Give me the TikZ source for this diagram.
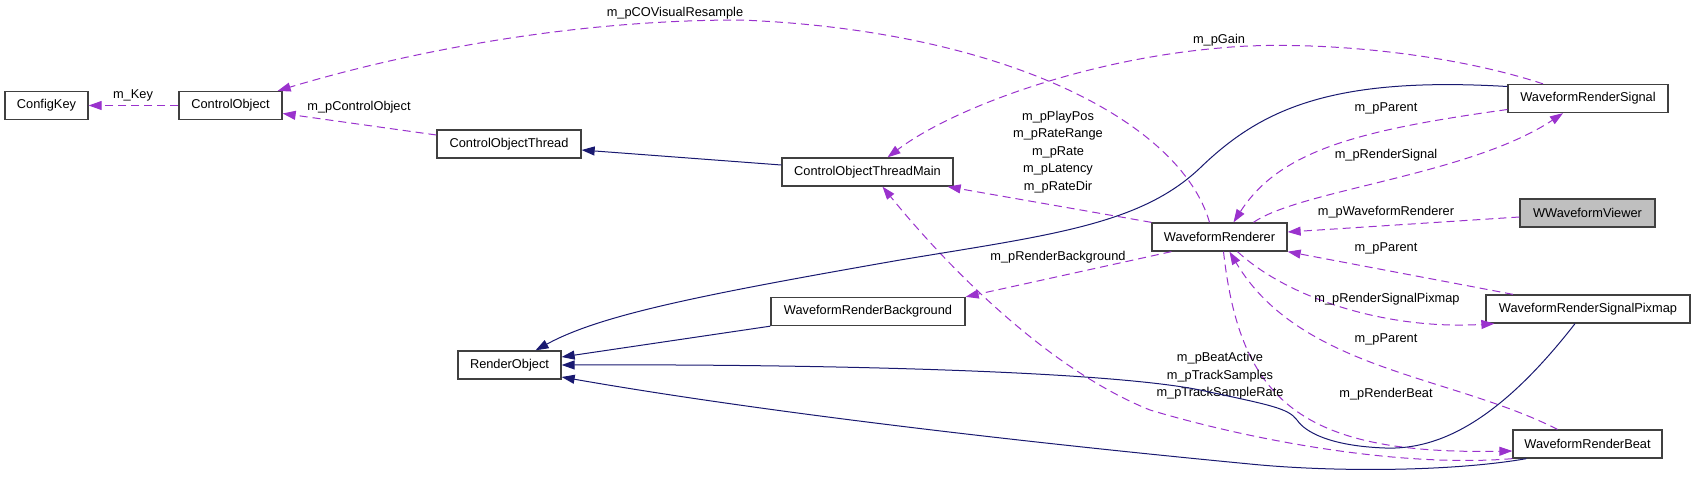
\documentclass[tikz,border=0pt]{standalone}
\usepackage{fontspec}
\setmainfont{Liberation Sans}
\usepackage{tikz}
\usetikzlibrary{arrows.meta}
\definecolor{memberpurple}{HTML}{9A32CD}
\definecolor{inheritnavy}{HTML}{191970}
\definecolor{boxgray}{HTML}{404040}
\definecolor{selfgray}{HTML}{BFBFBF}
\tikzstyle{classbox} = [rectangle, minimum height=28pt, inner xsep=4pt, text centered,
draw=boxgray, line width=1.3pt, fill=white, font=\fontsize{12.8}{15}\selectfont]
\tikzstyle{selfbox} = [classbox, fill=selfgray]
\tikzstyle{lbl} = [inner sep=0pt, align=center, font=\fontsize{12.8}{17.5}\selectfont]
\tikzstyle{member} = [line width=1pt, draw=memberpurple, dash pattern=on 8pt off 5pt,
-{Triangle[length=13pt, width=9pt, fill=memberpurple]}]
\tikzstyle{inherit} = [line width=1pt, draw=inheritnavy,
-{Triangle[length=13pt, width=9pt, fill=inheritnavy]}]

\begin{document}
\begin{tikzpicture}[x=1pt, y=-1pt]
\useasboundingbox (0,0) rectangle (1696,477);

\node(configKey)[classbox, minimum width=83pt] at (46.5,105.5) {ConfigKey};
\node(controlObject)[classbox, minimum width=103pt] at (230.5,105.5) {ControlObject};
\node(coThread)[classbox, minimum width=144pt] at (509,144) {ControlObjectThread};
\node(coThreadMain)[classbox, minimum width=171pt] at (867.5,172) {ControlObjectThreadMain};
\node(renderSignal)[classbox, minimum width=160pt] at (1588,98.5) {WaveformRenderSignal};
\node(viewer)[selfbox, minimum width=135pt] at (1587.5,213) {WWaveformViewer};
\node(renderer)[classbox, minimum width=135pt] at (1219.5,237) {WaveformRenderer};
\node(renderBackground)[classbox, minimum width=194pt] at (868,311.5) {WaveformRenderBackground};
\node(renderObject)[classbox, minimum width=103pt] at (509.5,365) {RenderObject};
\node(signalPixmap)[classbox, minimum width=204pt] at (1588,309) {WaveformRenderSignalPixmap};
\node(renderBeat)[classbox, minimum width=149pt] at (1587.5,444) {WaveformRenderBeat};

\draw[member](controlObject) -- (configKey) node[lbl] at (133,95) {m\_Key};
\draw[member]([yshift=9pt]coThread.west) -- ([yshift=-8pt]controlObject.east)
node[lbl] at (359,107) {m\_pControlObject};
\draw[inherit]([yshift=7pt]coThreadMain.west) -- ([yshift=-6pt]coThread.east);
\draw[member]([xshift=-10pt]renderer.north) .. controls (1180,120) and (1000,30) .. (740,20)
.. controls (550,20) and (380,60) .. ([xshift=-5pt]controlObject.north east)
node[lbl] at (675,13) {m\_pCOVisualResample};
\draw[member]([xshift=-45pt]renderSignal.north) .. controls (1440,50) and (1300,40) .. (1220,48)
.. controls (1080,60) and (950,110) .. ([xshift=20pt]coThreadMain.north)
node[lbl] at (1219,40) {m\_pGain};
\draw[member](renderer.north west) -- ([xshift=-6pt]coThreadMain.south east)
node[lbl] at (1058,152) {m\_pPlayPos\\m\_pRateRange\\m\_pRate\\m\_pLatency\\m\_pRateDir};
\draw[member]([yshift=-11pt]renderSignal.west) .. controls (1360,130) and (1280,150) ..
([xshift=14pt]renderer.north) node[lbl] at (1386,108) {m\_pParent};
\draw[member]([xshift=34pt]renderer.north) .. controls (1300,190) and (1470,175) ..
([xshift=-25pt]renderSignal.south) node[lbl] at (1386,155) {m\_pRenderSignal};
\draw[member]([yshift=-4pt]viewer.west) -- ([yshift=5pt]renderer.east)
node[lbl] at (1386,212) {m\_pWaveformRenderer};
\draw[member]([xshift=-75pt]signalPixmap.north) -- (renderer.south east)
node[lbl] at (1386,248) {m\_pParent};
\draw[member]([xshift=18pt]renderer.south) .. controls (1290,300) and (1390,330) ..
([xshift=9pt]signalPixmap.south west) node[lbl] at (1387,299) {m\_pRenderSignalPixmap};
\draw[member]([xshift=-30pt]renderBeat.north) .. controls (1450,375) and (1300,370) ..
([xshift=10pt]renderer.south) node[lbl] at (1386,339) {m\_pParent};
\draw[member]([xshift=4pt]renderer.south) .. controls (1240,400) and (1300,455) ..
([yshift=-7pt]renderBeat.west) node[lbl] at (1386,394) {m\_pRenderBeat};
\draw[member](renderBeat.south west) .. controls (1400,468) and (1250,440) .. (1150,410)
.. controls (1050,370) and (950,270) .. ([xshift=15pt]coThreadMain.south)
node[lbl] at (1220,376) {m\_pBeatActive\\m\_pTrackSamples\\m\_pTrackSampleRate};
\draw[member]([xshift=20pt]renderer.south west) -- (renderBackground.north east)
node[lbl] at (1058,257) {m\_pRenderBackground};
\draw[inherit]([yshift=12pt]renderSignal.west) .. controls (1330,76) and (1260,110) .. (1200,168)
.. controls (1140,225) and (1050,235) .. (900,260)
.. controls (700,295) and (600,315) .. ([xshift=26pt]renderObject.north);
\draw[inherit](renderBackground.south west) -- ([yshift=8pt]renderObject.east);
\draw[inherit]([xshift=-13pt]signalPixmap.south) .. controls (1500,420) and (1440,450) .. (1385,448)
.. controls (1330,446) and (1305,432) .. (1297,420)
.. controls (1288,408) and (1270,405) .. (1200,390)
.. controls (1100,370) and (800,364) .. (renderObject.east);
\draw[inherit]([xshift=14pt]renderBeat.south west) .. controls (1450,472) and (1330,472) .. (1250,464)
.. controls (1000,440) and (750,410) .. ([yshift=-12pt]renderObject.east);

\end{tikzpicture}
\end{document}
